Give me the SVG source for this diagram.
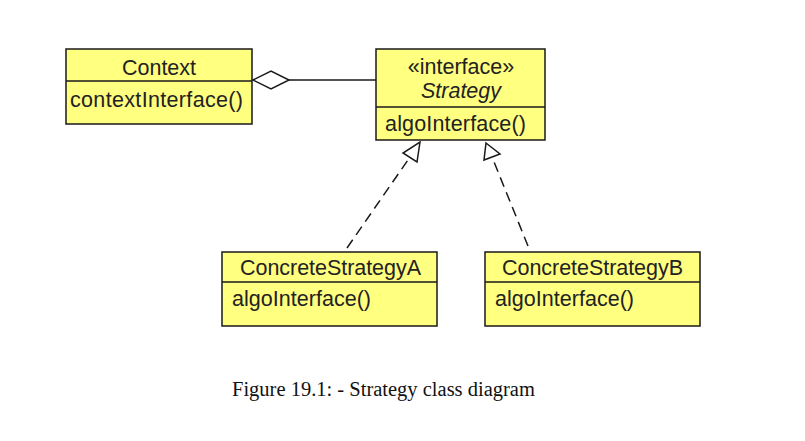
<svg xmlns="http://www.w3.org/2000/svg" width="805" height="441" viewBox="0 0 805 441">
<style>
.box{fill:#ffff80;stroke:#1a1a1a;stroke-width:1.5}
.ln{stroke:#1a1a1a;stroke-width:1.5;fill:none}
.t{font-family:"Liberation Sans",Arial,sans-serif;font-size:21.5px;fill:#222}
.c{text-anchor:middle}
.cap{font-family:"Liberation Serif","Times New Roman",serif;font-size:20.5px;fill:#111}
</style>
<rect width="805" height="441" fill="#fff"/>
<g id="context">
<rect class="box" x="66" y="49" width="186" height="75"/>
<line class="ln" x1="66" y1="81" x2="252" y2="81"/>
<text class="t c" x="159" y="75">Context</text>
<text class="t" x="70" y="107" textLength="173">contextInterface()</text>
</g>
<g id="strategy">
<rect class="box" x="376" y="49" width="169" height="91"/>
<line class="ln" x1="376" y1="107" x2="545" y2="107"/>
<text class="t c" x="461" y="74">«interface»</text>
<text class="t c" x="461" y="98" font-style="italic">Strategy</text>
<text class="t" x="385" y="131" textLength="141">algoInterface()</text>
</g>
<g id="concreteA">
<rect class="box" x="222" y="252" width="215" height="74"/>
<line class="ln" x1="222" y1="282" x2="437" y2="282"/>
<text class="t" x="240" y="275" textLength="181">ConcreteStrategyA</text>
<text class="t" x="232" y="306" textLength="139">algoInterface()</text>
</g>
<g id="concreteB">
<rect class="box" x="485" y="252" width="215" height="74"/>
<line class="ln" x1="485" y1="282" x2="700" y2="282"/>
<text class="t" x="502" y="275" textLength="181">ConcreteStrategyB</text>
<text class="t" x="495" y="306" textLength="139">algoInterface()</text>
</g>
<g id="connectors">
<polygon class="ln" fill="#fff" points="253,80 271,71 289,80 271,89"/>
<line class="ln" x1="289" y1="80" x2="376" y2="80"/>
<line class="ln" x1="347" y1="248" x2="410" y2="157" stroke-dasharray="10,6"/>
<polygon class="ln" fill="#fff" points="420,142 417,162 403,153"/>
<line class="ln" x1="528" y1="246" x2="492" y2="157" stroke-dasharray="10,6"/>
<polygon class="ln" fill="#fff" points="486,143 500,154 484,160"/>
</g>
<text class="cap" x="232" y="396">Figure 19.1: - Strategy class diagram</text>
</svg>
